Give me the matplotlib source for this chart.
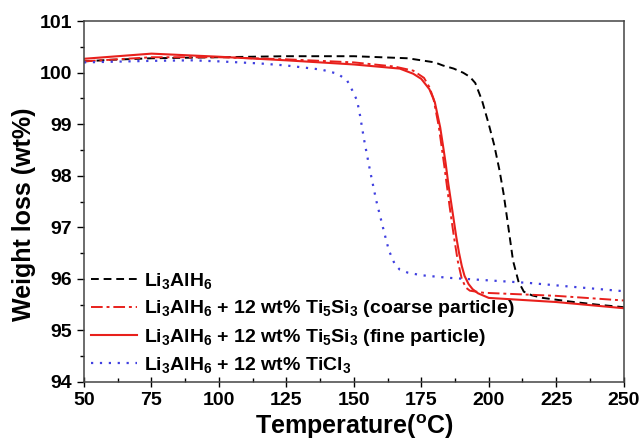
import matplotlib
matplotlib.use("Agg")
import matplotlib.pyplot as plt
from matplotlib.ticker import MultipleLocator

# values
temp_pure = [50, 60, 75, 100, 125, 150, 170, 180, 183, 187, 190.5, 193, 195, 197.5, 200, 202,
             204, 205.5, 207, 209, 211, 213, 216, 220, 230, 240, 250]
wt_pure = [100.22, 100.25, 100.28, 100.3, 100.32, 100.32, 100.28, 100.2, 100.14, 100.08, 100.0,
           99.92, 99.8, 99.46, 99.0, 98.6, 98.1, 97.65, 97.1, 96.35, 95.95, 95.75, 95.68, 95.63,
           95.56, 95.5, 95.45]

temp_coarse = [50, 75, 100, 125, 150, 165, 172, 176, 178, 179.5, 181.5, 183.5, 185.5, 187, 188.5,
               190, 191.5, 193, 198, 225, 250]
wt_coarse = [100.22, 100.3, 100.3, 100.26, 100.2, 100.12, 100.04, 99.9, 99.72, 99.5, 98.95, 98.2,
             97.4, 96.85, 96.35, 96.0, 95.83, 95.77, 95.73, 95.67, 95.58]

temp_fine = [50, 75, 100, 125, 150, 167, 172, 175, 178, 180, 182, 183, 184, 185, 186, 187, 188,
             189, 190, 191, 192.5, 194, 196, 200, 225, 250]
wt_fine = [100.27, 100.37, 100.31, 100.24, 100.16, 100.08, 99.98, 99.88, 99.68, 99.43, 98.94,
           98.6, 98.25, 97.85, 97.5, 97.15, 96.8, 96.5, 96.25, 96.06, 95.9, 95.8, 95.72, 95.63,
           95.55, 95.43]

temp_ticl3 = [50, 75, 90, 100, 115, 125, 138, 144, 147.5, 149.4, 151.2, 152.3, 153.8, 156, 158.3,
              161.4, 163, 165.2, 167, 170, 175, 185, 200, 215, 230, 250]
wt_ticl3 = [100.2, 100.23, 100.24, 100.22, 100.18, 100.14, 100.06, 99.98, 99.85, 99.66, 99.46,
            99.17, 98.7, 98.1, 97.52, 96.87, 96.55, 96.28, 96.18, 96.12, 96.07, 96.02, 95.97,
            95.92, 95.85, 95.76]

labels = [
    r"Li$_3$AlH$_6$",
    r"Li$_3$AlH$_6$ + 12 wt% Ti$_5$Si$_3$ (coarse particle)",
    r"Li$_3$AlH$_6$ + 12 wt% Ti$_5$Si$_3$ (fine particle)",
    r"Li$_3$AlH$_6$ + 12 wt% TiCl$_3$",
]

plt.rcParams["font.family"] = ["Liberation Sans", "DejaVu Sans"]
plt.rcParams["font.weight"] = "bold"
plt.rcParams["mathtext.fontset"] = "custom"
plt.rcParams["mathtext.rm"] = "Liberation Sans:bold"
plt.rcParams["mathtext.it"] = "Liberation Sans:bold"
plt.rcParams["mathtext.bf"] = "Liberation Sans:bold"

fig = plt.figure(figsize=(6.41, 4.41), dpi=100)
ax = fig.add_axes([0.131, 0.134, 0.842, 0.818])

ax.plot(temp_pure, wt_pure, color="black", linestyle=(0, (4, 2.5)), linewidth=1.4, label=labels[0])
ax.plot(temp_coarse, wt_coarse, color="#e8201c", linestyle=(0, (6, 2, 1.5, 2)), linewidth=1.4,
        label=labels[1])
ax.plot(temp_fine, wt_fine, color="#e8201c", linestyle="-", linewidth=1.5, label=labels[2])
ax.plot(temp_ticl3, wt_ticl3, color="#4040e0", linestyle=(0, (1, 3)), linewidth=1.6,
        label=labels[3])

ax.set_xlim(50, 250)
ax.set_ylim(94, 101)
ax.xaxis.set_major_locator(MultipleLocator(25))
ax.xaxis.set_minor_locator(MultipleLocator(12.5))
ax.yaxis.set_major_locator(MultipleLocator(1))
ax.yaxis.set_minor_locator(MultipleLocator(0.5))
ax.tick_params(axis="x", which="major", direction="inout", length=7, width=1, labelsize=14)
ax.tick_params(axis="x", which="minor", direction="in", length=3, width=1)
ax.tick_params(axis="y", which="major", direction="out", length=5, width=1, labelsize=14)
ax.tick_params(axis="y", which="minor", direction="out", length=3, width=1)
for lab in ax.get_xticklabels() + ax.get_yticklabels():
    lab.set_fontweight("bold")
for sp in ax.spines.values():
    sp.set_linewidth(1.1)
    sp.set_color("#444444")

ax.set_xlabel(r"Temperature($^{\rm o}$C)", fontsize=18, fontweight="bold", labelpad=3)
ax.set_ylabel("Weight loss (wt%)", fontsize=18, fontweight="bold")
ax.yaxis.set_label_coords(-0.088, 0.465)

ax.legend(loc="lower left", frameon=False, handlelength=2.4, handletextpad=0.35,
          labelspacing=0.38, borderaxespad=0.05, borderpad=0.3,
          prop={"weight": "bold", "size": 14})

fig.savefig("out.png", dpi=100)
